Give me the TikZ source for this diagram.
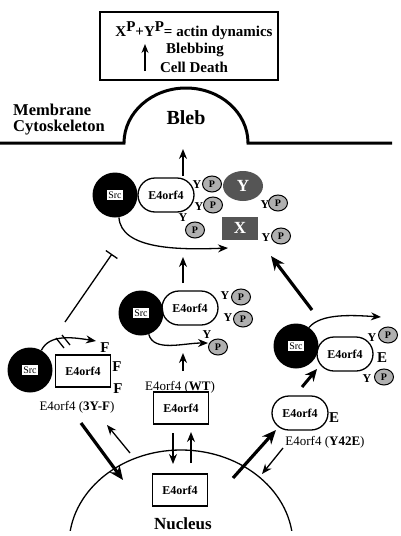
\documentclass[tikz,border=0pt]{standalone}
\usepackage{fontspec}
\setmainfont{Liberation Serif}
\usetikzlibrary{arrows.meta,shapes.geometric,shapes.misc,positioning}
\definecolor{blob}{HTML}{555555}
\definecolor{phos}{HTML}{B0B0B0}
\newcommand{\srctag}{{\setlength{\fboxsep}{1.5pt}\colorbox{white}{\fontsize{10}{10}\selectfont Src}}}

\begin{document}
\begin{tikzpicture}[x=1pt, y=-1pt,
  srcball/.style={circle, fill=black, minimum size=45pt, inner sep=0pt},
  pill/.style={rounded rectangle, draw, line width=1.3pt, minimum width=56pt, minimum height=34pt, inner sep=0pt, font=\fontsize{12}{12}\selectfont\bfseries},
  orfbox/.style={rectangle, draw, line width=1.3pt, minimum width=55pt, minimum height=32pt, inner sep=0pt, font=\fontsize{12}{12}\selectfont\bfseries},
  pball/.style={ellipse, draw, line width=1pt, fill=phos, minimum width=19pt, minimum height=16pt, inner sep=0pt, font=\fontsize{10}{10}\selectfont\bfseries},
  tyr/.style={inner sep=0pt, font=\fontsize{12}{12}\selectfont\bfseries},
  mut/.style={inner sep=0pt, font=\fontsize{15}{15}\selectfont\bfseries},
  tag/.style={inner sep=0pt, font=\fontsize{13}{13}\selectfont},
  big/.style={fill=blob, text=white, inner sep=0pt, font=\fontsize{17}{17}\selectfont\bfseries},
  thinarr/.style={line width=1.3pt, -{Stealth[length=10pt,width=8pt]}},
  fatarr/.style={line width=3.2pt, -{Stealth[length=14pt,width=12pt]}}]
\useasboundingbox (0,0) rectangle (400,536);

% === legend box ===
\node[draw, line width=1.3pt, minimum width=178pt, minimum height=68pt] (legend) at (189,46) {};
\node[inner sep=0pt, font=\fontsize{15}{15}\selectfont\bfseries] (eq) at (194,31)
  {X\raisebox{5pt}{P}+Y\raisebox{5pt}{P}= actin dynamics};
\node[inner sep=0pt, font=\fontsize{15}{15}\selectfont\bfseries] (blebbing) at (195,50) {Blebbing};
\node[inner sep=0pt, font=\fontsize{15}{15}\selectfont\bfseries] (death) at (194,67) {Cell Death};
\coordinate (up0) at (145,71);
\coordinate (up1) at (145,44);
\draw[line width=1.3pt, -{Stealth[length=9pt,width=7pt]}] (up0) -- (up1);

% === membrane and bleb ===
\draw[line width=3pt] (0,143) -- (124,143) arc[start angle=180, end angle=360, x radius=62, y radius=55] -- (392,143);
\node[inner sep=0pt, font=\fontsize{20}{20}\selectfont\bfseries] (bleb) at (186,118) {Bleb};
\node[inner sep=0pt, anchor=west, font=\fontsize{16.5}{16.5}\selectfont\bfseries] (membrane) at (13,110) {Membrane};
\node[inner sep=0pt, anchor=west, font=\fontsize{16.5}{16.5}\selectfont\bfseries] (cyto) at (13,128) {Cytoskeleton};

% === active complex at the cortex ===
\node[srcball] (src1) at (115,195) {\srctag};
\node[pill] (orf1) at (166,195) {E4orf4};
\node[tyr] (y1) at (197,185) {Y};  \node[pball] (p1) at (212,184) {P};
\node[tyr] (y2) at (199,207) {Y};  \node[pball] (p2) at (213,205) {P};
\node[tyr] (y3) at (183,218) {Y};  \node[pball] (p3) at (195,230) {P};
\node[big, ellipse, minimum width=40pt, minimum height=30pt] (ybig) at (243,186) {Y};
\node[big, minimum width=36pt, minimum height=23pt] (xbig) at (240,228) {X};
\node[tyr] (y4) at (265,205) {Y};  \node[pball] (p4) at (278,203) {P};
\node[tyr] (y5) at (266,238) {Y};  \node[pball] (p5) at (281,236) {P};
\coordinate (bleb0) at (183,176);
\coordinate (bleb1) at (183,149);
\draw[thinarr] (bleb0) -- (bleb1);
\coordinate (xin) at (228,248);
\draw[thinarr] (src1.-80) .. controls +(2,32) and +(-50,2) .. (xin);

% === wild type ===
\node[srcball] (src2) at (141,313) {\srctag};
\node[pill] (orf2) at (190,308) {E4orf4};
\node[tyr] (y6) at (225,296) {Y};  \node[pball] (p6) at (241,297) {P};
\node[tyr] (y7) at (228,318) {Y};  \node[pball] (p7) at (243,319) {P};
\node[tyr] (y8) at (207,335) {Y};  \node[pball] (p8) at (218,347) {P};
\coordinate (yin) at (208,343);
\draw[thinarr] (src2.-70) .. controls +(5,18) and +(-25,0) .. (yin);
\coordinate (wt0) at (183,283);
\coordinate (wt1) at (183,257);
\draw[thinarr] (wt0) -- (wt1);
\node[tag] (wtlab) at (180,387) {E4orf4 (\textbf{WT})};
\coordinate (wt2) at (183,371);
\coordinate (wt3) at (183,353);
\draw[thinarr] (wt2) -- (wt3);
\node[orfbox] (orfwt) at (181,408) {E4orf4};

% === 3Y-F mutant ===
\node[srcball] (src4) at (30,370) {\srctag};
\node[orfbox] (orf4) at (83,371) {E4orf4};
\node[mut] (f1) at (105,348) {F};
\node[mut] (f2) at (117,367) {F};
\node[mut] (f3) at (118,389) {F};
\node[tag] (yflab) at (77,407) {E4orf4 (\textbf{3Y-F})};
\coordinate (fin) at (96,341);
\draw[thinarr] (src4.60) .. controls +(8,-16) and +(-25,-4) .. (fin);
\draw[line width=1.3pt] (56,338) -- (64,348) (62,335) -- (70,345);
\coordinate (blk0) at (65,322);
\coordinate (blk1) at (112,254);
\draw[line width=1.3pt, -{Bar[width=14pt]}] (blk0) -- (blk1);

% === Y42E mutant ===
\node[srcball] (src3) at (296,346) {\srctag};
\node[pill] (orf3) at (345,354) {E4orf4};
\node[mut] (e1) at (382,358) {E};
\node[tyr] (y9) at (372,338) {Y};  \node[pball] (p9) at (388,335) {P};
\node[tyr] (y10) at (367,379) {Y}; \node[pball] (p10) at (384,377) {P};
\coordinate (ein) at (381,317);
\draw[thinarr] (src3.55) .. controls +(12,-14) and +(-30,-2) .. (ein);
\node[pill] (orfe) at (300,413) {E4orf4};
\node[mut] (e2) at (334,418) {E};
\node[tag] (yelab) at (325,442) {E4orf4 (\textbf{Y42E})};
\coordinate (e0) at (302,387);
\coordinate (e1b) at (317,369);
\draw[line width=3pt, -{Stealth[length=12pt,width=11pt]}] (e0) -- (e1b);
\coordinate (big0) at (312,310);
\coordinate (big1) at (271,256);
\draw[fatarr] (big0) -- (big1);

% === nucleus ===
\begin{scope}
\clip (0,0) rectangle (400,530);
\draw[line width=1.3pt] (181,545) ellipse [x radius=112, y radius=95];
\end{scope}
\node[orfbox] (orfn) at (180,490) {E4orf4};
\node[inner sep=0pt, font=\fontsize{17}{17}\selectfont\bfseries] (nucleus) at (183,524) {Nucleus};
\draw[thinarr] (173,433) -- (173,464);
\draw[thinarr] (191,463) -- (191,432);
\draw[fatarr] (81,423) -- (123,480);
\draw[thinarr] (130,453) -- (107,425);
\draw[fatarr] (233,478) -- (276,430);
\draw[thinarr] (283,448) -- (262,474);
\end{tikzpicture}
\end{document}
